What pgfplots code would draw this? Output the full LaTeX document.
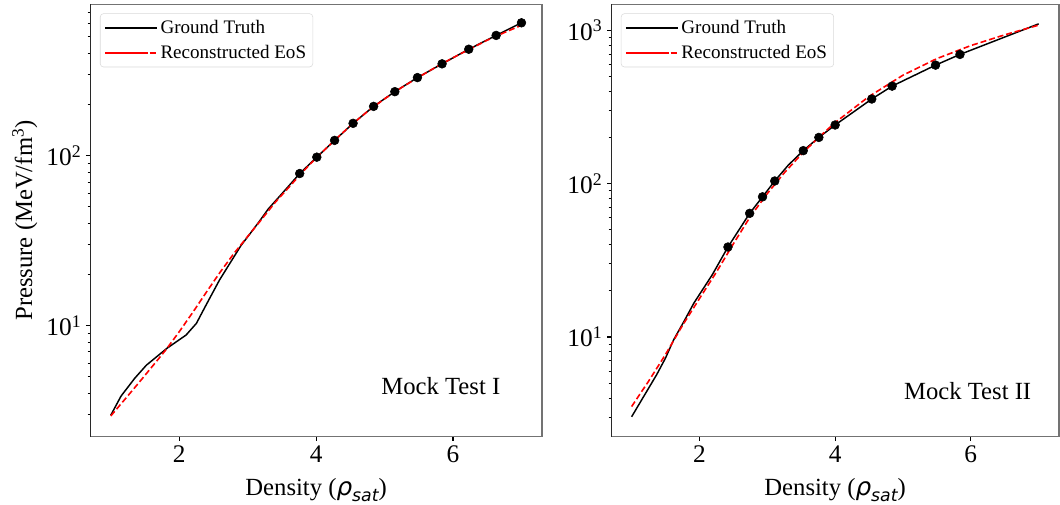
\documentclass[border=0pt]{standalone}
\usepackage{fontspec}
\setmainfont{Liberation Serif}
\newfontfamily\dejavu{DejaVu Sans}
\usepackage{pgfplots}
\usepackage{pgfplotstable}
\pgfplotsset{compat=1.18}

\newcommand{\rhosat}{{\dejavu\itshape ρ\raisebox{-0.45ex}{\fontsize{13}{13}\selectfont sat}}}

% Mock Test I
\pgfplotstableread{
x y
1.00 2.97
1.15 3.85
1.35 4.90
1.52 5.85
1.82 7.35
2.10 8.80
2.25 10.3
2.40 13.4
2.59 18.6
2.90 29.5
3.15 40.0
3.30 48.5
3.52 61.0
3.76 78.5
4.01 98.0
4.27 123
4.54 155
4.84 195
5.15 238
5.48 288
5.84 347
6.23 423
6.63 510
7.00 605
}\truthA
\pgfplotstableread{
x y
3.76 78.5
4.01 98.0
4.27 123
4.54 155
4.84 195
5.15 238
5.48 288
5.84 347
6.23 423
6.63 510
7.00 605
}\ptsA
\pgfplotstableread{
x y
1.00 2.94
1.20 3.66
1.40 4.56
1.60 5.71
1.80 7.16
2.00 9.20
2.20 12.0
2.40 15.8
2.60 20.7
2.80 26.6
3.00 33.5
3.20 42.0
3.40 53.0
3.60 65.0
3.80 80.0
4.00 97.0
4.25 121
4.50 150
4.75 182
5.00 216
5.25 252
5.50 290
5.75 332
6.00 377
6.25 425
6.50 478
6.75 530
7.00 585
}\reconA

% Mock Test II
\pgfplotstableread{
x y
1.00 3.02
1.37 5.69
1.50 7.30
1.62 9.60
1.77 12.6
1.92 16.7
2.19 25.5
2.42 38.6
2.74 64.0
2.93 82.0
3.11 104
3.31 132
3.53 164
3.76 200
4.00 241
4.54 356
4.84 432
5.48 592
5.84 695
7.00 1100
}\truthB
\pgfplotstableread{
x y
2.42 38.6
2.74 64.0
2.93 82.0
3.11 104
3.53 164
3.76 200
4.00 241
4.54 356
4.84 432
5.48 592
5.84 695
}\ptsB
\pgfplotstableread{
x y
1.00 3.52
1.25 5.15
1.50 7.70
1.75 11.9
2.00 17.8
2.25 26.5
2.50 40.5
2.75 61.0
3.00 86.1
3.25 117.5
3.50 154.9
3.75 198.6
4.00 250
4.50 370
5.00 509
5.50 653
6.00 794
6.50 933
7.00 1079
}\reconB

\pgfplotsset{
  eosaxis/.style={
    scale only axis, height=324.3pt,
    xmin=0.7, xmax=7.3,
    xtick={2,4,6}, xticklabels={2,4,6},
    minor ytick={3,4,5,6,7,8,9,20,30,40,50,60,70,80,90,200,300,400,500,600,700,800,900},
    tick align=outside, tick pos=left,
    major tick length=3.2pt, minor tick length=2pt,
    every tick/.style={black, line width=0.9pt},
    every minor tick/.style={black, line width=0.7pt},
    axis line style={draw=black!55, line width=1.1pt},
    tick label style={font=\fontsize{19}{19}\selectfont},
    label style={font=\fontsize{18.5}{18.5}\selectfont},
    xlabel={Density (\rhosat)},
    xlabel style={at={(axis description cs:0.5,-0.123)}, anchor=center},
    legend cell align=left,
    legend style={at={(axis description cs:0.0215,0.979)}, anchor=north west,
      draw=black!15, rounded corners=2.5pt, font=\fontsize{14.3}{14.3}\selectfont,
      row sep=3.2pt, inner xsep=3pt, inner ysep=3pt},
    legend image code/.code={\path (-3pt,0pt) -- (36pt,0pt);\draw[##1] (0pt,0pt) -- (29pt,0pt);},
  },
  truth/.style={black, line width=1.1pt, mark=none},
  recon/.style={red, line width=1.2pt, dash pattern=on 4.5pt off 2.2pt, mark=none},
  pts/.style={only marks, mark=*, mark size=3.3pt, black, forget plot},
}

\begin{document}
\begin{tikzpicture}
\begin{axis}[ymode=log, eosaxis, width=338.8pt, at={(0pt,0pt)}, anchor=south west,
    ymin=2.22, ymax=778,
    ytick={10,100}, yticklabels={10\textsuperscript{1},10\textsuperscript{2}},
    ylabel={Pressure (MeV/fm\textsuperscript{3})},
    ylabel style={at={(axis description cs:-0.145,0.5)}, anchor=center}]
  \addplot[truth] table {\truthA};
  \addlegendentry{Ground Truth}
  \addplot[pts] table {\ptsA};
  \addplot[recon] table {\reconA};
  \addlegendentry{Reconstructed EoS}
  \draw[black, line width=1.1pt] (rel axis cs:0,0) -- (rel axis cs:0,1);
  \node[font=\fontsize{18.5}{18.5}\selectfont] at (axis description cs:0.776,0.116) {Mock Test I};
\end{axis}
\begin{axis}[ymode=log, eosaxis, width=335.8pt, at={(390.75pt,0pt)}, anchor=south west,
    ymin=2.24, ymax=1476,
    ytick={10,100,1000}, yticklabels={10\textsuperscript{1},10\textsuperscript{2},10\textsuperscript{3}}]
  \addplot[truth] table {\truthB};
  \addlegendentry{Ground Truth}
  \addplot[pts] table {\ptsB};
  \addplot[recon] table {\reconB};
  \addlegendentry{Reconstructed EoS}
  \draw[black, line width=1.1pt] (rel axis cs:0,0) -- (rel axis cs:0,1);
  \node[font=\fontsize{18.5}{18.5}\selectfont] at (axis description cs:0.796,0.106) {Mock Test II};
\end{axis}
\pgfresetboundingbox
\path (-67.7pt,-51.2pt) rectangle (727.3pt,327.5pt);
\end{tikzpicture}
\end{document}
